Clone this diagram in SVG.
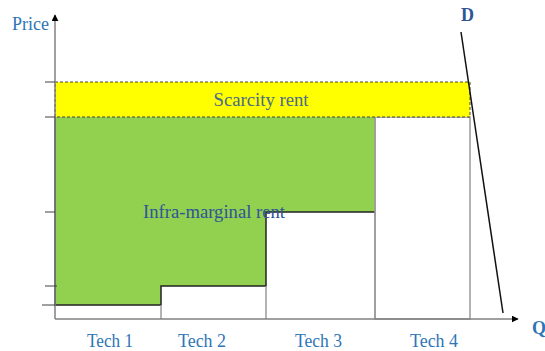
<svg xmlns="http://www.w3.org/2000/svg" width="545" height="351" viewBox="0 0 545 351">
<defs>
<marker id="arr" viewBox="0 0 10 10" refX="9" refY="5" markerWidth="7" markerHeight="7" orient="auto" markerUnits="userSpaceOnUse"><path d="M0,0 L10,5 L0,10 z" fill="#000"/></marker>
</defs>
<style>
.lbl{font-family:"Liberation Serif","Times New Roman",serif;fill:#2E75B6}
.tech{font-size:18px}
.axis{stroke:#808080;stroke-width:1.5;fill:none}
.tick{stroke:#404040;stroke-width:1}
.div{stroke:#9a9a9a;stroke-width:1.5;fill:none}
</style>
<rect width="545" height="351" fill="#fff"/>
<g id="tech4-block"><rect x="375" y="117" width="95" height="202" fill="#fff" stroke="#9a9a9a" stroke-width="1.5"/></g>
<g id="infra-marginal-rent">
<polygon points="55,117 375,117 375,212 266,212 266,286 161,286 161,305 55,305" fill="#92D050" stroke="none"/>
<polyline points="55,117 55,305 161,305 161,286 266,286 266,212 375,212" fill="none" stroke="#222" stroke-width="1.5"/>
<line x1="375" y1="117" x2="375" y2="212" stroke="#9a9a9a" stroke-width="1.5"/>
<text class="lbl" x="143" y="218" font-size="19.5" style="fill:#2F5597" textLength="142" lengthAdjust="spacingAndGlyphs">Infra-marginal rent</text>
</g>
<g id="scarcity-rent">
<rect x="55" y="82" width="415" height="35" fill="#FFFF00" stroke="#444" stroke-width="1" stroke-dasharray="3,2"/>
<text class="lbl" x="261" y="106" font-size="19.5" text-anchor="middle" style="fill:#4A6A8C" textLength="95" lengthAdjust="spacingAndGlyphs">Scarcity rent</text>
</g>
<g id="connectors">
<line class="div" x1="161" y1="305" x2="161" y2="319"/>
<line class="div" x1="266" y1="286" x2="266" y2="319"/>
<line class="div" x1="375" y1="212" x2="375" y2="319"/>
<line class="axis" x1="55" y1="319" x2="55" y2="15" marker-end="url(#arr)"/>
<line class="axis" x1="55" y1="319" x2="518" y2="319" marker-end="url(#arr)"/>
<line class="tick" x1="45" y1="82" x2="55" y2="82"/>
<line class="tick" x1="45" y1="117" x2="55" y2="117"/>
<line class="tick" x1="45" y1="212" x2="55" y2="212"/>
<line class="tick" x1="45" y1="286" x2="57" y2="286"/>
<line class="tick" x1="42" y1="305" x2="55" y2="305"/>
<line id="demand" x1="461" y1="32" x2="503" y2="313" stroke="#111" stroke-width="1.5"/>
</g>
<g id="labels">
<text class="lbl" x="12" y="30" font-size="18" textLength="37" lengthAdjust="spacingAndGlyphs">Price</text>
<text class="lbl" x="461" y="21" font-size="18" font-weight="bold" style="fill:#2F5597">D</text>
<text class="lbl" x="532" y="334" font-size="18" font-weight="bold">Q</text>
<text class="lbl tech" x="87" y="347" textLength="46" lengthAdjust="spacingAndGlyphs">Tech 1</text>
<text class="lbl tech" x="178" y="347" textLength="48" lengthAdjust="spacingAndGlyphs">Tech 2</text>
<text class="lbl tech" x="295" y="347" textLength="47" lengthAdjust="spacingAndGlyphs">Tech 3</text>
<text class="lbl tech" x="410" y="347" textLength="48" lengthAdjust="spacingAndGlyphs">Tech 4</text>
</g>
</svg>
